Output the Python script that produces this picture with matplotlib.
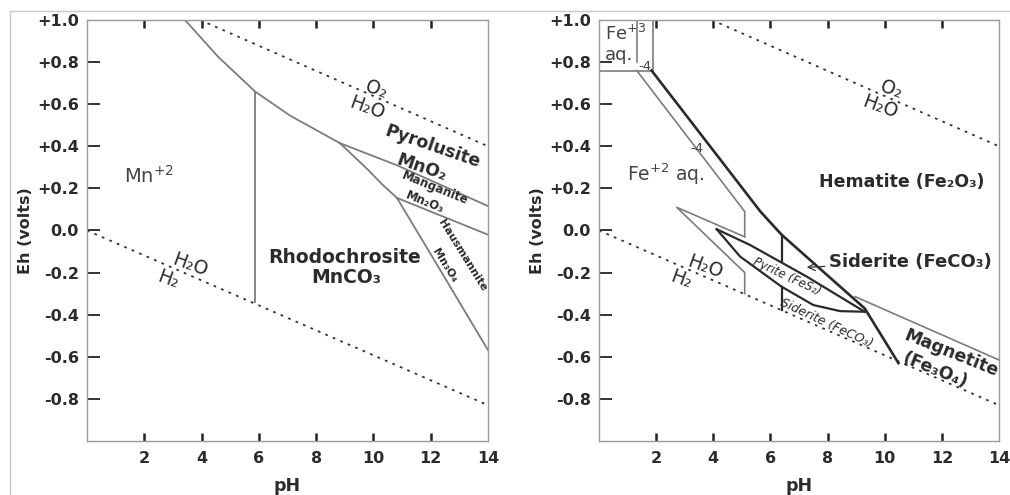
import matplotlib.pyplot as plt
from matplotlib.lines import Line2D

# water stability limits (same on both panels)
o2_ph = [3.95, 14.0]
o2_eh = [1.0, 0.40]
h2_ph = [0.0, 14.0]
h2_eh = [0.0, -0.83]

# Mn system
mn_upper_ph = [3.42, 4.58, 5.87, 7.1, 8.83]
mn_upper_eh = [1.0, 0.825, 0.66, 0.545, 0.415]
mn_vert_ph = [5.87, 5.87]
mn_vert_eh = [0.66, -0.34]
pyro_mang_ph = [8.83, 10.82, 14.0]
pyro_mang_eh = [0.415, 0.31, 0.116]
rhodo_mang_ph = [8.83, 9.8, 10.3, 10.82]
rhodo_mang_eh = [0.415, 0.29, 0.22, 0.155]
mang_haus_ph = [10.82, 14.0]
mang_haus_eh = [0.155, -0.02]
rhodo_haus_ph = [10.82, 11.98, 14.0]
rhodo_haus_eh = [0.155, -0.108, -0.568]

# Fe system
fe3_box_ph = [0.0, 1.9, 1.9]
fe3_box_eh = [0.76, 0.76, 1.0]
fe3_inner_ph = [1.32, 1.32]
fe3_inner_eh = [1.0, 0.80]
fe2_gray_ph = [1.32, 5.1, 5.1]
fe2_gray_eh = [0.76, 0.09, -0.03]
wedge_ph = [5.1, 2.72, 5.1, 5.1]
wedge_eh = [-0.03, 0.11, -0.2, -0.30]
hem_ph = [1.84, 5.65, 6.39, 9.3, 10.48]
hem_eh = [0.76, 0.09, -0.02, -0.37, -0.63]
lens_top_ph = [4.12, 5.29, 7.27, 9.3]
lens_top_eh = [0.006, -0.069, -0.219, -0.386]
lens_bot_ph = [4.12, 4.94, 6.39, 7.5, 8.44, 9.3]
lens_bot_eh = [0.006, -0.124, -0.267, -0.354, -0.383, -0.386]
sid_vert_ph = [6.39, 6.39]
sid_vert_top_eh = [-0.02, -0.15]
sid_vert_bot_eh = [-0.267, -0.378]
mag_hem_ph = [8.96, 14.0]
mag_hem_eh = [-0.314, -0.615]

x_ticks = [2, 4, 6, 8, 10, 12, 14]
y_ticks = [0.8, 0.6, 0.4, 0.2, 0.0, -0.2, -0.4, -0.6, -0.8, 1.0]
y_labels = ["+0.8", "+0.6", "+0.4", "+0.2", "0.0", "-0.2", "-0.4", "-0.6", "-0.8", "+1.0"]

GRAY = "#7c7c7c"
DARK = "#2a2a2a"
TXT = "#2b2b2b"


def setup_axis(ax):
    ax.set_xlim(0, 14)
    ax.set_ylim(-1.0, 1.0)
    for s in ax.spines.values():
        s.set_color("#9a9a9a")
        s.set_linewidth(1.0)
    ax.set_xticks(x_ticks)
    ax.set_xticklabels([str(t) for t in x_ticks], fontweight="bold", fontsize=11.5,
                       color=TXT)
    ax.set_yticks(y_ticks)
    ax.set_yticklabels(y_labels, fontweight="bold", fontsize=11.5, color=TXT)
    ax.tick_params(axis="x", direction="in", length=6, width=1.8, color="#222",
                   top=True, pad=7)
    ax.tick_params(axis="y", direction="in", length=9, width=1.3, color="#222",
                   pad=6)
    # no visible tick on the frame edges
    for t in ax.xaxis.get_major_ticks()[-1:]:
        t.tick1line.set_visible(False)
        t.tick2line.set_visible(False)
    for t in ax.yaxis.get_major_ticks()[-1:]:
        t.tick1line.set_visible(False)
    ax.set_xlabel("pH", fontweight="bold", fontsize=12.5, labelpad=8, color=TXT)
    ax.set_ylabel("Eh (volts)", fontweight="bold", fontsize=11.5, labelpad=3,
                  color=TXT)
    ax.plot(o2_ph, o2_eh, color="#333", lw=1.3, ls=(0, (1.5, 3)))
    ax.plot(h2_ph, h2_eh, color="#333", lw=1.3, ls=(0, (1.5, 3)))


fig = plt.figure(figsize=(10.1, 4.95), dpi=100)
ax1 = fig.add_axes([87 / 1010, 1 - 441 / 495, 401 / 1010, 421 / 495])
ax2 = fig.add_axes([599 / 1010, 1 - 441 / 495, 400 / 1010, 421 / 495])
setup_axis(ax1)
setup_axis(ax2)

# ---- left: Mn ----
for px, py in [(mn_upper_ph, mn_upper_eh), (mn_vert_ph, mn_vert_eh),
               (pyro_mang_ph, pyro_mang_eh), (rhodo_mang_ph, rhodo_mang_eh),
               (mang_haus_ph, mang_haus_eh), (rhodo_haus_ph, rhodo_haus_eh)]:
    ax1.plot(px, py, color=GRAY, lw=1.3)

ax1.text(1.3, 0.26, "Mn$^{+2}$", fontsize=14, color="#444", va="center")
ax1.text(9.0, -0.13, "Rhodochrosite", fontsize=13.5, fontweight="bold",
         color=TXT, ha="center", va="center")
ax1.text(9.05, -0.225, "MnCO₃", fontsize=13.5, fontweight="bold",
         color=TXT, ha="center", va="center")
ax1.text(12.08, 0.40, "Pyrolusite", fontsize=12.5, fontweight="bold", color=TXT,
         ha="center", va="center", rotation=-19)
ax1.text(11.7, 0.30, "MnO₂", fontsize=12.5, fontweight="bold", color=TXT,
         ha="center", va="center", rotation=-19)
ax1.text(12.15, 0.20, "Manganite", fontsize=8.5, fontweight="bold", color=TXT,
         ha="center", va="center", rotation=-22)
ax1.text(11.8, 0.135, "Mn₂O₃", fontsize=8.5, fontweight="bold", color=TXT,
         ha="center", va="center", rotation=-22)
ax1.text(13.1, -0.12, "Hausmannite", fontsize=8, fontweight="bold", color=TXT,
         ha="center", va="center", rotation=-58)
ax1.text(12.5, -0.165, "Mn₃O₄", fontsize=8, fontweight="bold", color=TXT,
         ha="center", va="center", rotation=-58)
ax1.text(10.1, 0.667, "O₂", fontsize=13.5, color=TXT, ha="center",
         va="center", rotation=-20)
ax1.text(9.77, 0.58, "H₂O", fontsize=13.5, color=TXT, ha="center",
         va="center", rotation=-20)
ax1.text(3.6, -0.164, "H₂O", fontsize=13.5, color=TXT, ha="center",
         va="center", rotation=-20)
ax1.text(2.84, -0.235, "H₂", fontsize=13.5, color=TXT, ha="center",
         va="center", rotation=-20)

# ---- right: Fe ----
for px, py in [(fe3_box_ph, fe3_box_eh), (fe3_inner_ph, fe3_inner_eh),
               (fe2_gray_ph, fe2_gray_eh), (wedge_ph, wedge_eh),
               (mag_hem_ph, mag_hem_eh)]:
    ax2.plot(px, py, color=GRAY, lw=1.2)
ax2.plot(hem_ph, hem_eh, color=DARK, lw=1.9)
ax2.plot(lens_top_ph, lens_top_eh, color=DARK, lw=1.6)
ax2.plot(lens_bot_ph, lens_bot_eh, color=DARK, lw=1.6)
ax2.plot(sid_vert_ph, sid_vert_top_eh, color=DARK, lw=1.6)
ax2.plot(sid_vert_ph, sid_vert_bot_eh, color=DARK, lw=1.6)

ax2.text(0.2, 0.935, "Fe$^{+3}$", fontsize=13, color="#444", va="center")
ax2.text(0.2, 0.835, "aq.", fontsize=13, color="#444", va="center")
ax2.text(1.6, 0.78, "-4", fontsize=9.5, color="#444", ha="center", va="center")
ax2.text(3.43, 0.39, "-4", fontsize=9.5, color="#444", ha="center", va="center")
ax2.text(0.97, 0.265, "Fe$^{+2}$ aq.", fontsize=13.5, color="#444", va="center")
ax2.text(10.6, 0.232, "Hematite (Fe₂O₃)", fontsize=12.5, fontweight="bold",
         color=TXT, ha="center", va="center")
ax2.annotate("Siderite (FeCO₃)", xy=(7.27, -0.175), xytext=(8.05, -0.15),
             fontsize=13, fontweight="bold", color=TXT, va="center",
             arrowprops=dict(arrowstyle="->", color="#333", lw=0.9,
                             shrinkA=1, shrinkB=0))
ax2.text(6.57, -0.22, "Pyrite (FeS₂)", fontsize=8.5, fontstyle="italic",
         color=TXT, ha="center", va="center", rotation=-25)
ax2.text(7.97, -0.438, "Siderite (FeCO₃)", fontsize=9, fontstyle="italic",
         color=TXT, ha="center", va="center", rotation=-25)
ax2.text(12.34, -0.583, "Magnetite", fontsize=12.5, fontweight="bold",
         color=TXT, ha="center", va="center", rotation=-22)
ax2.text(11.76, -0.663, "(Fe₃O₄)", fontsize=12.5, fontweight="bold",
         color=TXT, ha="center", va="center", rotation=-22)
ax2.text(10.24, 0.667, "O₂", fontsize=13.5, color=TXT, ha="center",
         va="center", rotation=-20)
ax2.text(9.84, 0.588, "H₂O", fontsize=13.5, color=TXT, ha="center",
         va="center", rotation=-20)
ax2.text(3.71, -0.172, "H₂O", fontsize=13.5, color=TXT, ha="center",
         va="center", rotation=-20)
ax2.text(2.89, -0.235, "H₂", fontsize=13.5, color=TXT, ha="center",
         va="center", rotation=-20)

# thin frame of the original figure
fig.add_artist(Line2D([10 / 1010, 1], [1 - 11 / 495] * 2, color="#c8c8c8", lw=1))
fig.add_artist(Line2D([10 / 1010] * 2, [0, 1 - 11 / 495], color="#c8c8c8", lw=1))

fig.savefig("out.png", dpi=100)
